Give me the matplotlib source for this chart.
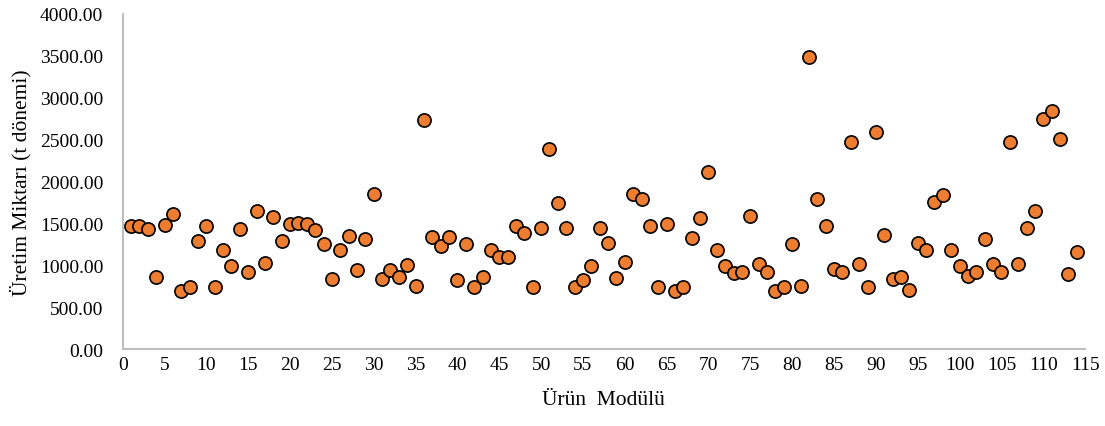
import matplotlib
matplotlib.use("Agg")
import matplotlib.pyplot as plt
from matplotlib.ticker import FormatStrFormatter, MultipleLocator

modules = list(range(1, 115))
production = [
    1465, 1465, 1429, 856, 1481, 1608, 696, 744, 1286, 1465,
    744, 1186, 995, 1429, 923, 1648, 1023, 1572, 1286, 1488,
    1504, 1488, 1417, 1250, 840, 1186, 1349, 943, 1317, 1855,
    840, 943, 856, 1007, 752, 2738, 1337, 1226, 1337, 828,
    1250, 740, 856, 1186, 1099, 1099, 1465, 1389, 740, 1441,
    2388, 1739, 1441, 740, 828, 995, 1441, 1266, 844, 1035,
    1855, 1787, 1465, 740, 1493, 696, 740, 1325, 1568, 2110,
    1186, 995, 903, 919, 1584, 1015, 919, 696, 740, 1250,
    752, 3490, 1787, 1469, 955, 916, 2468, 1019, 740, 2595,
    1365, 840, 856, 700, 1266, 1186, 1751, 1839, 1186, 995,
    868, 919, 1313, 1019, 919, 2468, 1019, 1441, 1648, 2750,
    2838, 2504, 892, 1162,
]
x_label = "Ürün  Modülü"
y_label = "Üretim Miktarı (t dönemi)"

plt.rcParams['font.family'] = ['Liberation Serif', 'DejaVu Serif']

fig = plt.figure(figsize=(11.05, 4.27), dpi=100)
ax = fig.add_axes([0.111, 0.180, 0.871, 0.785])

ax.scatter(modules, production, s=90, facecolor='#ED7D31', edgecolor='black',
           linewidth=1.2, zorder=3, clip_on=False)

ax.set_xlim(0, 115)
ax.set_ylim(0, 4000)
ax.xaxis.set_major_locator(MultipleLocator(5))
ax.yaxis.set_major_locator(MultipleLocator(500))
ax.yaxis.set_major_formatter(FormatStrFormatter('%.2f'))

for side in ['top', 'right']:
    ax.spines[side].set_visible(False)
for side in ['left', 'bottom']:
    ax.spines[side].set_color('#BFBFBF')
    ax.spines[side].set_linewidth(1.5)

ax.tick_params(axis='both', length=0, labelsize=14, colors='#000000')
ax.tick_params(axis='y', pad=14)
ax.tick_params(axis='x', pad=5)

ax.set_xlabel(x_label, fontsize=15.5, labelpad=12)
ax.set_ylabel(y_label, fontsize=15.5, labelpad=6)

fig.savefig("out.png", dpi=100)
